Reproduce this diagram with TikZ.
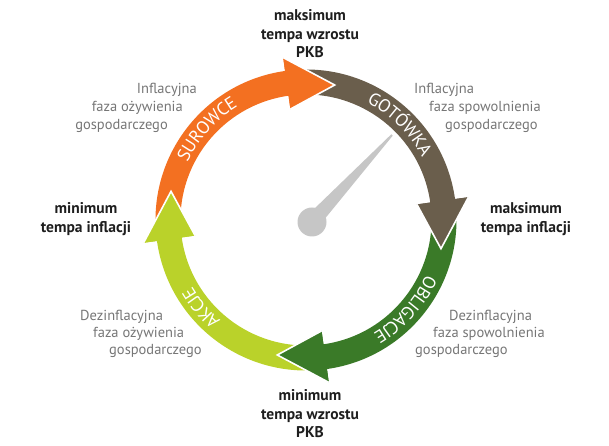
\documentclass[tikz,border=0pt]{standalone}
\usepackage{fontspec}
\setmainfont{PT Sans}
\usetikzlibrary{decorations.text}
\definecolor{cOrange}{RGB}{243,112,33}
\definecolor{cBrown}{RGB}{106,94,76}
\definecolor{cGreen}{RGB}{58,122,40}
\definecolor{cLime}{RGB}{186,210,42}
\definecolor{cNeedle}{RGB}{198,198,198}
\definecolor{cDark}{RGB}{30,30,30}
\definecolor{cGrayText}{RGB}{118,118,118}
\def\rMid{138}
\def\rIn{125.5}
\def\rOut{150.5}
\def\hIn{112}
\def\hOut{164}
% #1 colour, #2 tail angle, #3 head base angle, #4 tip angle
\newcommand\cyclearrow[4]{%
  \fill[#1] (#2:\rOut) arc[start angle=#2, end angle=#3, radius=\rOut]
    -- (#3:\hOut) -- (#4:\rMid) -- (#3:\hIn) -- (#3:\rIn)
    arc[start angle=#3, end angle=#2, radius=\rIn] -- cycle;}
\newcommand\cyclehead[3]{%
  \fill[#1] (#2:\hOut) -- (#3:\rMid) -- (#2:\hIn) -- cycle;
  \draw[white, line width=1.6pt] (#2:\hOut) -- (#3:\rMid) -- (#2:\hIn);}
\newcommand\arclabel[3]{%
  \path[decorate, decoration={text along path, text align=center, raise=-6pt,
    text={|\fontsize{18}{18}\selectfont\color{white}|#1}}]
    (#2:\rMid) arc[start angle=#2, end angle=#3, radius=\rMid];}
\begin{document}
\begin{tikzpicture}[x=1pt,y=1pt,
  boldlabel/.style={align=center, text=cDark, inner sep=0pt,
    font=\fontsize{15.5}{18.5}\selectfont\bfseries},
  graylabel/.style={text=cGrayText, inner sep=0pt,
    font=\fontsize{14.5}{16}\selectfont}]
\useasboundingbox (-306,-226) rectangle (303,220);
% arrows (bodies)
\cyclearrow{cOrange}{186}{98}{78}
\cyclearrow{cBrown}{96}{8}{-12}
\cyclearrow{cGreen}{6}{-82}{-102}
\cyclearrow{cLime}{-84}{-172}{-192}
% heads on top
\cyclehead{cOrange}{98}{78}
\cyclehead{cBrown}{8}{-12}
\cyclehead{cGreen}{-82}{-102}
\cyclehead{cLime}{-172}{-192}
% arrow labels
\arclabel{SUROWCE}{175}{100}
\arclabel{GOTÓWKA}{83}{8}
\arclabel{OBLIGACJE}{-4}{-80}
\arclabel{AKCJE}{-100}{-180}
% needle
\fill[cNeedle] (6,-2) circle (14.5);
\fill[cNeedle, line join=round] (0.2,3.4) -- (85.3,85.7) -- (86.7,84.3) -- (11.8,-7.4) -- cycle;
% bold labels
\node[boldlabel] (maxpkb) at (4,186) {maksimum\\tempa wzrostu\\PKB};
\node[boldlabel] (minpkb) at (4,-194) {minimum\\tempa wzrostu\\PKB};
\node[boldlabel] (mininf) at (-220,1) {minimum\\tempa inflacji};
\node[boldlabel] (maxinf) at (220,1) {maksimum\\tempa inflacji};
% gray labels upper left
\node[graylabel, anchor=east] (ul1) at (-109,130) {Inflacyjna};
\node[graylabel, anchor=east] (ul2) at (-123,112) {faza ożywienia};
\node[graylabel, anchor=east] (ul3) at (-138,94) {gospodarczego};
% upper right
\node[graylabel, anchor=west] (ur1) at (108,130) {Inflacyjna};
\node[graylabel, anchor=west] (ur2) at (123,112) {faza spowolnienia};
\node[graylabel, anchor=west] (ur3) at (139,94) {gospodarczego};
% lower left
\node[graylabel, anchor=west] (ll1) at (-226,-97) {Dezinflacyjna};
\node[graylabel, anchor=west] (ll2) at (-213,-114) {faza ożywienia};
\node[graylabel, anchor=west] (ll3) at (-197,-131) {gospodarczego};
% lower right
\node[graylabel, anchor=west] (lr1) at (143,-97) {Dezinflacyjna};
\node[graylabel, anchor=west] (lr2) at (127,-114) {faza spowolnienia};
\node[graylabel, anchor=west] (lr3) at (109,-131) {gospodarczego};
\end{tikzpicture}
\end{document}
